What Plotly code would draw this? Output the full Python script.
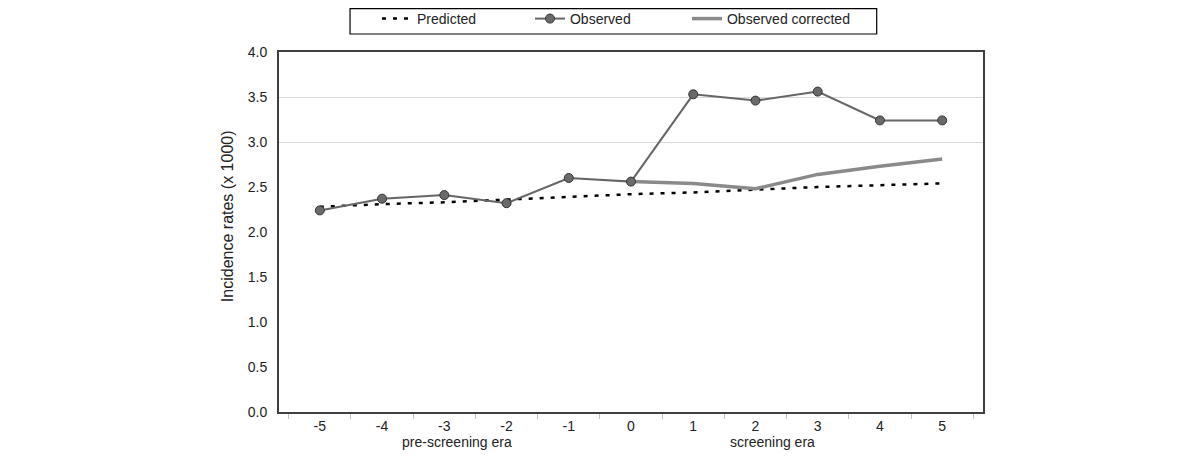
import plotly.graph_objects as go

years = ["-5", "-4", "-3", "-2", "-1", "0", "1", "2", "3", "4", "5"]
predicted = [2.28, 2.31, 2.33, 2.36, 2.39, 2.42, 2.44, 2.47, 2.50, 2.52, 2.54]
observed = [2.24, 2.37, 2.41, 2.32, 2.60, 2.56, 3.53, 3.46, 3.56, 3.24, 3.24]
observed_corrected = [None, None, None, None, None, 2.56, 2.54, 2.48, 2.64, 2.73, 2.81]
y_ticks = [0.0, 0.5, 1.0, 1.5, 2.0, 2.5, 3.0, 3.5, 4.0]
grid_levels = [3.0, 3.5]
era_labels = ["pre-screening era", "screening era"]
era_positions = [2.2, 7.28]
y_title = "Incidence rates (x 1000)"

FONT = "Liberation Sans, Arial, sans-serif"
TXT = "#222222"

fig = go.Figure()
fig.add_trace(go.Scatter(
    x=years, y=predicted, name="Predicted", mode="lines", legend="legend",
    line=dict(color="black", width=2.5, dash="4px,7px"),
))
fig.add_trace(go.Scatter(
    x=years, y=observed_corrected, name="Observed corrected", mode="lines",
    legend="legend3", line=dict(color="#8a8a8a", width=3.5),
))
fig.add_trace(go.Scatter(
    x=years, y=observed, name="Observed", mode="lines+markers", legend="legend2",
    line=dict(color="#666666", width=2),
    marker=dict(size=9, color="#6a6a6a", line=dict(color="#333333", width=1)),
))
# invisible trace on the grid axis
fig.add_trace(go.Scatter(x=years, y=predicted, yaxis="y2", mode="lines",
                         line=dict(width=0), showlegend=False, hoverinfo="skip",
                         opacity=0))

for label, pos in zip(era_labels, era_positions):
    fig.add_annotation(x=pos, xref="x", y=-0.083, yref="paper", text=label,
                       showarrow=False, yanchor="middle",
                       font=dict(family=FONT, size=14, color=TXT))

fig.add_annotation(x=-0.0739, xref="paper", y=0.544, yref="paper", text=y_title,
                   textangle=-90, showarrow=False, xanchor="center", yanchor="middle",
                   font=dict(family=FONT, size=16, color=TXT))

# legend frame
fig.add_shape(type="rect", xref="paper", yref="paper",
              x0=0.1009, x1=0.849, y0=1.05, y1=1.1205,
              line=dict(color="black", width=1.2), fillcolor="white", layer="below")

leg_common = dict(orientation="h", yanchor="middle", y=1.0917, xanchor="left",
                  borderwidth=0, bgcolor="rgba(0,0,0,0)",
                  font=dict(family=FONT, size=14, color=TXT))

fig.update_layout(
    width=1200, height=469,
    margin=dict(l=271, r=225, t=44, b=65, autoexpand=False),
    paper_bgcolor="white", plot_bgcolor="white",
    font=dict(family=FONT, size=14, color=TXT),
    showlegend=True,
    legend=dict(x=0.1392, **leg_common),
    legend2=dict(x=0.3565, **leg_common),
    legend3=dict(x=0.5795, **leg_common),
    xaxis=dict(type="category", categoryorder="array", categoryarray=years,
               showgrid=False, showline=True, linecolor="#404040", linewidth=2,
               mirror=True, ticks="outside", tickson="boundaries",
               ticklen=5, tickcolor="#c0c0c0", tickwidth=1,
               tickfont=dict(family=FONT, size=14, color=TXT),
               zeroline=False),
    yaxis=dict(range=[0, 4], tickvals=y_ticks, tickformat=".1f",
               showgrid=False, showline=True, linecolor="#404040", linewidth=2,
               mirror=True, ticks="", zeroline=False, ticklabelstandoff=7,
               tickfont=dict(family=FONT, size=14, color=TXT)),
    yaxis2=dict(range=[0, 4], overlaying="y", tickvals=grid_levels,
                showticklabels=False, showgrid=True, gridcolor="#d9d9d9",
                gridwidth=1, zeroline=False, showline=False, layer="below traces"),
)

fig.write_html("out.html")
